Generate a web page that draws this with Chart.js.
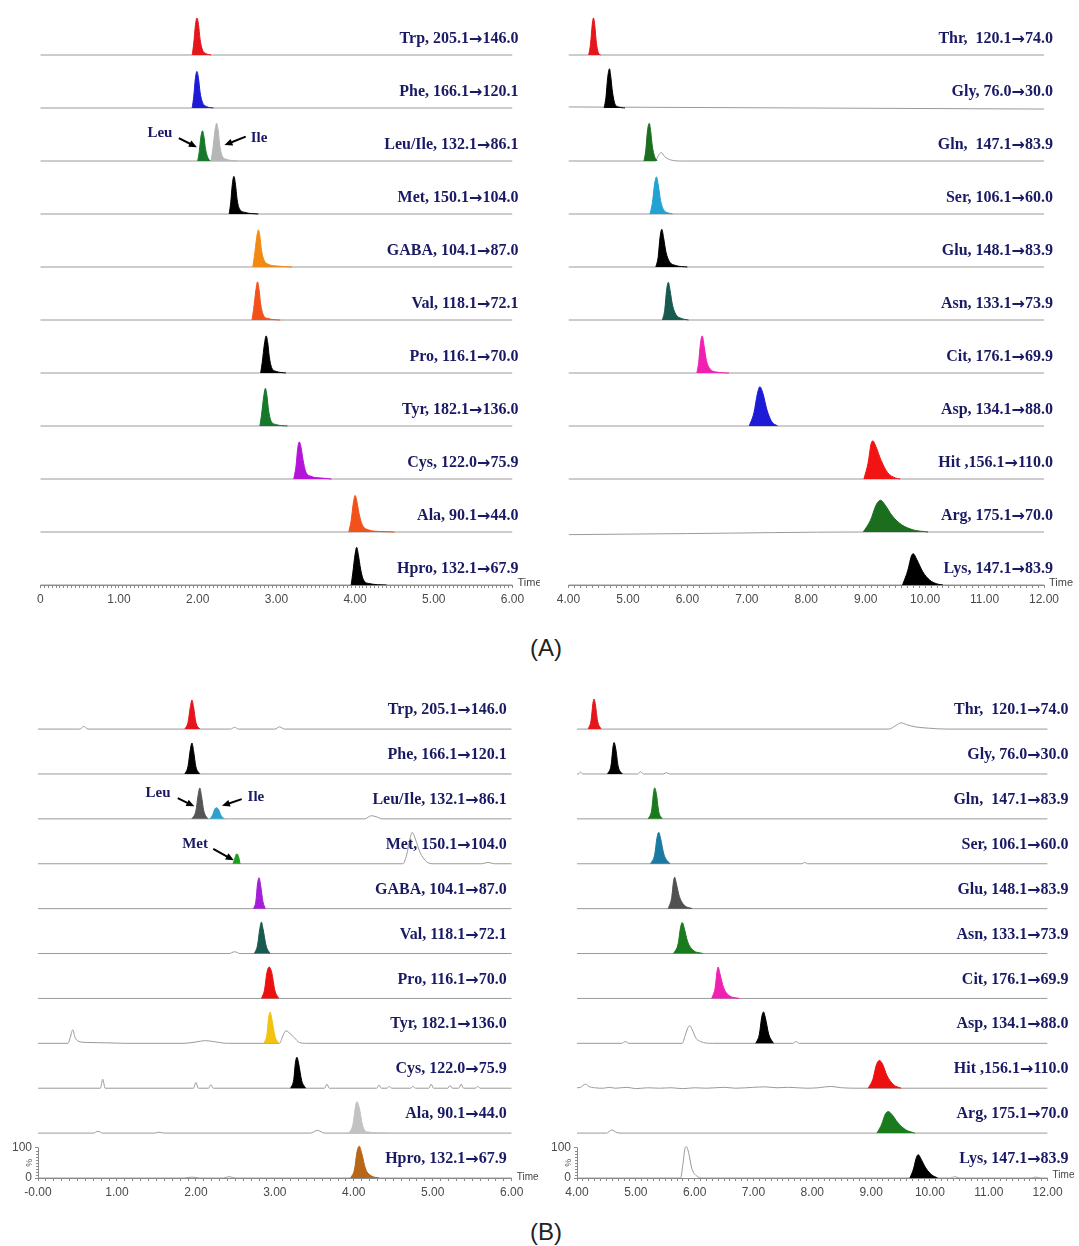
<!DOCTYPE html>
<html>
<head>
<meta charset="utf-8">
<script src="https://cdn.jsdelivr.net/npm/chart.js@4.4.0/dist/chart.umd.min.js"></script>
<style>
  body { margin: 0; background: #fff; width: 1079px; height: 1246px; position: relative; overflow: hidden; }
  canvas { position: absolute; }
  .cap { position: absolute; transform: translateX(-50%); font: 24px "Liberation Sans", Arial, sans-serif; color: #222; }
</style>
</head>
<body>
<canvas id="aLeft" width="540" height="613" style="left:0;top:2px"></canvas>
<canvas id="aRight" width="539" height="613" style="left:540px;top:2px"></canvas>
<div class="cap" style="left:546px;top:634px">(A)</div>
<canvas id="bLeft" width="540" height="534" style="left:0;top:674px"></canvas>
<canvas id="bRight" width="539" height="534" style="left:540px;top:674px"></canvas>
<div class="cap" style="left:546px;top:1218px">(B)</div>
<script>
// every panel stacks 11 chromatogram traces, first row on top
const rowsPerPanel = 11;

// peak points are [time (min), height above the trace baseline (in row units)]

// ---------- (A) left ----------
const aLeftLabels = ['Trp, 205.1→146.0', 'Phe, 166.1→120.1', 'Leu/Ile, 132.1→86.1', 'Met, 150.1→104.0',
  'GABA, 104.1→87.0', 'Val, 118.1→72.1', 'Pro, 116.1→70.0', 'Tyr, 182.1→136.0',
  'Cys, 122.0→75.9', 'Ala, 90.1→44.0', 'Hpro, 132.1→67.9'];
const aLeftPeaks = [
  [[[1.93,0],[1.95,0.22],[1.97,0.55],[1.99,0.70],[2.01,0.58],[2.03,0.30],[2.06,0.10],[2.10,0.03],[2.17,0]]],
  [[[1.93,0],[1.95,0.22],[1.97,0.55],[1.99,0.69],[2.01,0.56],[2.03,0.30],[2.06,0.11],[2.11,0.03],[2.20,0]]],
  [[[2.00,0],[2.02,0.18],[2.04,0.45],[2.06,0.57],[2.08,0.45],[2.10,0.22],[2.13,0.06],[2.16,0]],
   [[2.17,0],[2.19,0.20],[2.22,0.58],[2.24,0.71],[2.26,0.58],[2.28,0.30],[2.31,0.10],[2.37,0.03],[2.50,0]]],
  [[[2.40,0],[2.42,0.22],[2.44,0.56],[2.46,0.71],[2.48,0.56],[2.50,0.28],[2.53,0.10],[2.60,0.03],[2.77,0]]],
  [[[2.70,0],[2.72,0.20],[2.75,0.56],[2.77,0.70],[2.79,0.58],[2.81,0.32],[2.84,0.14],[2.90,0.05],[3.00,0.02],[3.20,0]]],
  [[[2.69,0],[2.71,0.20],[2.74,0.57],[2.76,0.72],[2.78,0.57],[2.80,0.30],[2.83,0.11],[2.89,0.03],[3.05,0]]],
  [[[2.80,0],[2.82,0.20],[2.85,0.57],[2.87,0.70],[2.89,0.57],[2.91,0.30],[2.94,0.10],[3.00,0.03],[3.12,0]]],
  [[[2.79,0],[2.81,0.20],[2.84,0.57],[2.86,0.71],[2.88,0.57],[2.90,0.30],[2.93,0.10],[2.99,0.03],[3.14,0]]],
  [[[3.22,0],[3.25,0.25],[3.27,0.57],[3.29,0.70],[3.31,0.62],[3.34,0.35],[3.37,0.15],[3.44,0.05],[3.56,0.02],[3.70,0]]],
  [[[3.92,0],[3.95,0.22],[3.98,0.57],[4.00,0.69],[4.02,0.60],[4.05,0.35],[4.09,0.14],[4.17,0.04],[4.32,0.01],[4.50,0]]],
  [[[3.95,0],[3.97,0.22],[4.00,0.58],[4.02,0.71],[4.04,0.58],[4.07,0.30],[4.10,0.12],[4.17,0.03],[4.40,0]]]
];
const aLeftGhosts = [[], [], [], [], [], [], [], [], [], [], []];
const aLeftColors = [['#e4161c'], ['#1c1cd6'], ['#16782a', '#b6b6b6'], ['#000000'], ['#f28a12'], ['#f2521a'],
  ['#000000'], ['#16782a'], ['#b414d8'], ['#f2521a'], ['#000000']];
const aLeftNotes = [
  { text: 'Leu', row: 2, at: [1.52, 0.52], from: [1.76, 0.43], to: [1.99, 0.26] },
  { text: 'Ile', row: 2, at: [2.78, 0.44], from: [2.61, 0.46], to: [2.34, 0.30] }
];

// ---------- (A) right ----------
const aRightLabels = ['Thr,  120.1→74.0', 'Gly, 76.0→30.0', 'Gln,  147.1→83.9', 'Ser, 106.1→60.0',
  'Glu, 148.1→83.9', 'Asn, 133.1→73.9', 'Cit, 176.1→69.9', 'Asp, 134.1→88.0',
  'Hit ,156.1→110.0', 'Arg, 175.1→70.0', 'Lys, 147.1→83.9'];
const aRightPeaks = [
  [[[4.34,0],[4.37,0.20],[4.40,0.58],[4.42,0.70],[4.44,0.58],[4.47,0.22],[4.50,0.05],[4.54,0]]],
  [[[4.60,0],[4.63,0.20],[4.66,0.58],[4.69,0.74],[4.71,0.60],[4.74,0.30],[4.78,0.08],[4.84,0.02],[4.95,0]]],
  [[[5.27,0],[5.30,0.20],[5.33,0.58],[5.36,0.71],[5.38,0.58],[5.41,0.28],[5.45,0.08],[5.49,0]]],
  [[[5.37,0],[5.41,0.20],[5.45,0.58],[5.48,0.70],[5.51,0.55],[5.55,0.25],[5.60,0.08],[5.68,0.02],[5.75,0]]],
  [[[5.47,0],[5.51,0.20],[5.54,0.56],[5.57,0.71],[5.60,0.55],[5.64,0.28],[5.70,0.10],[5.80,0.03],[6.00,0]]],
  [[[5.58,0],[5.62,0.20],[5.65,0.56],[5.68,0.71],[5.71,0.55],[5.75,0.28],[5.81,0.10],[5.90,0.03],[6.02,0]]],
  [[[6.16,0],[6.19,0.20],[6.22,0.56],[6.25,0.70],[6.28,0.52],[6.32,0.24],[6.38,0.08],[6.48,0.02],[6.70,0]]],
  [[[7.04,0],[7.12,0.25],[7.18,0.62],[7.22,0.74],[7.27,0.62],[7.34,0.30],[7.42,0.08],[7.52,0]]],
  [[[8.97,0],[9.04,0.30],[9.09,0.66],[9.12,0.72],[9.17,0.62],[9.26,0.35],[9.37,0.12],[9.50,0.02],[9.58,0]]],
  [[[8.96,0],[9.08,0.22],[9.18,0.52],[9.25,0.60],[9.32,0.52],[9.45,0.30],[9.60,0.14],[9.80,0.04],[10.05,0]]],
  [[[9.62,0],[9.71,0.28],[9.77,0.55],[9.80,0.59],[9.86,0.48],[9.96,0.25],[10.08,0.09],[10.20,0.02],[10.30,0]]]
];
const aRightGhosts = [
  [],
  [[4.0,0.02],[12.0,-0.02]],
  [[5.46,0],[5.51,0.10],[5.56,0.16],[5.62,0.08],[5.72,0.02],[5.90,0]],
  [], [], [], [], [], [],
  [[4.0,-0.05],[6.0,-0.03],[8.9,0]],
  []
];
const aRightColors = [['#e4161c'], ['#000000'], ['#1a6e1e'], ['#22a2d2'], ['#000000'], ['#185a50'],
  ['#f020b2'], ['#1c1cd6'], ['#f21414'], ['#1a6e1e'], ['#000000']];

// ---------- (B) left ----------
const bLeftLabels = aLeftLabels;
const bLeftPeaks = [
  [[[1.86,0],[1.90,0.15],[1.93,0.50],[1.95,0.65],[1.97,0.50],[2.00,0.15],[2.05,0]]],
  [[[1.86,0],[1.90,0.17],[1.93,0.55],[1.95,0.69],[1.97,0.52],[2.00,0.16],[2.05,0]]],
  [[[1.95,0],[2.00,0.18],[2.03,0.55],[2.05,0.69],[2.07,0.52],[2.10,0.18],[2.15,0]],
   [[2.18,0],[2.21,0.08],[2.24,0.22],[2.26,0.25],[2.29,0.20],[2.32,0.07],[2.36,0]]],
  [[[2.47,0],[2.49,0.10],[2.51,0.21],[2.52,0.22],[2.54,0.16],[2.56,0]]],
  [[[2.73,0],[2.76,0.17],[2.78,0.55],[2.80,0.69],[2.82,0.52],[2.85,0.15],[2.88,0]]],
  [[[2.74,0],[2.78,0.18],[2.81,0.56],[2.83,0.70],[2.85,0.55],[2.89,0.17],[2.94,0]]],
  [[[2.83,0],[2.87,0.20],[2.90,0.58],[2.93,0.70],[2.96,0.58],[3.00,0.18],[3.05,0]]],
  [[[2.86,0],[2.90,0.20],[2.92,0.56],[2.94,0.70],[2.96,0.56],[3.00,0.17],[3.05,0]]],
  [[[3.20,0],[3.24,0.20],[3.26,0.56],[3.28,0.69],[3.30,0.56],[3.34,0.17],[3.39,0]]],
  [[[3.94,0],[3.99,0.20],[4.02,0.58],[4.04,0.70],[4.07,0.56],[4.11,0.18],[4.16,0.03],[4.45,0]]],
  [[[3.96,0],[4.01,0.20],[4.04,0.58],[4.07,0.71],[4.10,0.55],[4.15,0.20],[4.22,0.05],[4.32,0]]]
];
const bLeftGhosts = [
  [[0.53,0],[0.58,0.06],[0.63,0],[2.44,0],[2.49,0.04],[2.54,0],[3.00,0],[3.06,0.05],[3.12,0]],
  [],
  [[4.14,0],[4.22,0.07],[4.28,0.05],[4.36,0]],
  [[4.62,0],[4.67,0.20],[4.71,0.55],[4.74,0.70],[4.78,0.55],[4.84,0.25],[4.92,0.05],[5.00,0],[5.62,0],[5.70,0.03],[5.78,0]],
  [],
  [[2.42,0],[2.49,0.04],[2.56,0]],
  [],
  [[0.38,0],[0.41,0.14],[0.44,0.30],[0.47,0.13],[0.52,0.04],[0.62,0.02],[0.90,0.01],[1.10,0],
   [1.85,0],[2.00,0.03],[2.12,0.06],[2.22,0.04],[2.40,0],
   [3.06,0],[3.10,0.16],[3.14,0.28],[3.19,0.22],[3.25,0.12],[3.31,0.02],[3.40,0]],
  [[0.79,0],[0.82,0.20],[0.85,0],[1.97,0],[2.00,0.13],[2.03,0],[2.16,0],[2.19,0.08],[2.22,0],
   [3.63,0],[3.66,0.09],[3.69,0],[4.29,0],[4.32,0.07],[4.35,0],[4.42,0],[4.45,0.04],[4.48,0],
   [4.72,0],[4.75,0.04],[4.78,0],[4.95,0],[4.98,0.09],[5.01,0],[5.19,0],[5.22,0.06],[5.25,0],
   [5.33,0],[5.36,0.09],[5.39,0],[5.54,0],[5.57,0.04],[5.60,0]],
  [[0.70,0],[0.76,0.04],[0.82,0],[1.48,0],[1.53,0.02],[1.60,0],[3.45,0],[3.54,0.06],[3.63,0]],
  [[1.85,0],[1.95,0.02],[2.05,0],[2.35,0],[2.42,0.03],[2.50,0]]
];
const bLeftColors = [['#e4161c'], ['#000000'], ['#555555', '#2aa2cc'], ['#1ea01e'], ['#a41ed8'], ['#185a50'],
  ['#ec1010'], ['#f2c20e'], ['#000000'], ['#c2c2c2'], ['#b8661a']];
const bLeftNotes = [
  { text: 'Leu', row: 2, at: [1.52, 0.57], from: [1.77, 0.46], to: [1.98, 0.28] },
  { text: 'Ile', row: 2, at: [2.76, 0.48], from: [2.58, 0.44], to: [2.33, 0.29] },
  { text: 'Met', row: 3, at: [1.99, 0.44], from: [2.22, 0.33], to: [2.48, 0.08] }
];

// ---------- (B) right ----------
const bRightLabels = aRightLabels;
const bRightPeaks = [
  [[[4.19,0],[4.24,0.20],[4.27,0.57],[4.29,0.67],[4.31,0.57],[4.35,0.18],[4.41,0]]],
  [[[4.52,0],[4.58,0.20],[4.61,0.58],[4.63,0.70],[4.66,0.55],[4.70,0.17],[4.77,0]]],
  [[[5.21,0],[5.27,0.20],[5.30,0.57],[5.32,0.69],[5.35,0.55],[5.39,0.16],[5.45,0]]],
  [[[5.25,0],[5.32,0.20],[5.36,0.58],[5.39,0.70],[5.42,0.57],[5.48,0.20],[5.58,0]]],
  [[[5.55,0],[5.61,0.25],[5.64,0.60],[5.66,0.70],[5.69,0.55],[5.74,0.27],[5.82,0.08],[5.96,0]]],
  [[[5.64,0],[5.72,0.22],[5.76,0.58],[5.79,0.69],[5.82,0.58],[5.88,0.27],[5.97,0.08],[6.14,0]]],
  [[[6.29,0],[6.35,0.25],[6.38,0.60],[6.40,0.70],[6.43,0.55],[6.49,0.25],[6.58,0.07],[6.76,0]]],
  [[[7.04,0],[7.10,0.20],[7.14,0.58],[7.17,0.70],[7.20,0.58],[7.26,0.20],[7.34,0]]],
  [[[8.95,0],[9.03,0.20],[9.09,0.52],[9.14,0.62],[9.19,0.55],[9.27,0.28],[9.38,0.08],[9.51,0]]],
  [[[9.10,0],[9.18,0.20],[9.24,0.42],[9.29,0.48],[9.35,0.42],[9.45,0.24],[9.58,0.08],[9.74,0]]],
  [[[9.66,0],[9.72,0.20],[9.77,0.46],[9.80,0.52],[9.85,0.42],[9.93,0.22],[10.03,0.07],[10.13,0]]]
];
const bRightGhosts = [
  [[9.30,0],[9.42,0.08],[9.51,0.14],[9.60,0.10],[9.75,0.05],[9.98,0.02],[10.30,0]],
  [[4.02,0],[4.06,0.04],[4.10,0],[5.03,0],[5.08,0.05],[5.13,0],[5.47,0],[5.52,0.03],[5.57,0]],
  [],
  [[7.82,0],[7.87,0.03],[7.92,0]],
  [], [], [],
  [[4.76,0],[4.82,0.04],[4.88,0],[5.79,0],[5.84,0.18],[5.89,0.36],[5.92,0.39],[5.96,0.30],[6.02,0.12],
   [6.10,0.04],[6.30,0],[7.67,0],[7.72,0.04],[7.78,0]],
  [[4.0,0.01],[4.06,0.02],[4.10,0.06],[4.15,0.09],[4.20,0.04],[4.30,0.01],[4.45,0],[4.55,0.02],[4.65,0],
   [4.85,0.02],[5.0,-0.01],[5.2,0.01],[5.4,0],[5.6,0.01],[5.8,-0.01],[6.0,0.01],[6.2,0],[6.5,0.02],
   [6.7,0],[7.0,0.02],[7.2,0.03],[7.4,0.01],[7.6,0.02],[7.9,0],[8.1,0.01],[8.31,0.04],[8.5,0.01],[8.8,0]],
  [[4.50,0],[4.59,0.07],[4.68,0.01],[4.75,0]],
  [[5.76,0],[5.80,0.30],[5.84,0.68],[5.86,0.70],[5.90,0.55],[5.95,0.22],[6.02,0.06],[6.15,0],
   [10.35,0],[10.42,0.03],[10.50,0],[11.72,0],[11.80,0.02],[11.88,0]]
];
const bRightColors = [['#e4161c'], ['#000000'], ['#1a7a1e'], ['#1a7aa2'], ['#505050'], ['#1a7a1e'],
  ['#f020b2'], ['#000000'], ['#ec1010'], ['#1a7a1e'], ['#000000']];

// y span of the 0-100 % scale on the bottom trace of (B), in row units
const pctSpan = 0.68;

const navy = '#1a1a64';
const serifBold = 'bold 16px "Liberation Serif", "Times New Roman", serif';
const arrowFont = 'bold 16px "DejaVu Sans", sans-serif';
const sans = '"Liberation Sans", Arial, sans-serif';

// right-aligned trace name, the arrow taken from a font with a full-size glyph
function drawLabel(ctx, text, xRight, y) {
  const parts = text.split('→');
  ctx.font = serifBold;
  const wa = ctx.measureText(parts[0]).width;
  const wb = ctx.measureText(parts[1]).width;
  ctx.font = arrowFont;
  const wArr = ctx.measureText('→').width;
  let x = xRight - wb - wArr - wa;
  ctx.textAlign = 'left';
  ctx.font = serifBold;
  ctx.fillText(parts[0], x, y);
  x += wa;
  ctx.font = arrowFont;
  ctx.fillText('→', x, y + 1);
  x += wArr;
  ctx.font = serifBold;
  ctx.fillText(parts[1], x, y);
}

function drawArrow(ctx, x0, y0, x1, y1) {
  const ang = Math.atan2(y1 - y0, x1 - x0);
  ctx.strokeStyle = '#000';
  ctx.lineWidth = 2;
  ctx.beginPath();
  ctx.moveTo(x0, y0);
  ctx.lineTo(x1 - 5 * Math.cos(ang), y1 - 5 * Math.sin(ang));
  ctx.stroke();
  ctx.fillStyle = '#000';
  ctx.beginPath();
  ctx.moveTo(x1, y1);
  ctx.lineTo(x1 - 8 * Math.cos(ang) + 3.5 * Math.sin(ang), y1 - 8 * Math.sin(ang) - 3.5 * Math.cos(ang));
  ctx.lineTo(x1 - 8 * Math.cos(ang) - 3.5 * Math.sin(ang), y1 - 8 * Math.sin(ang) + 3.5 * Math.cos(ang));
  ctx.closePath();
  ctx.fill();
}

function buildPanel(id, p) {
  const datasets = [];
  p.labels.forEach((label, row) => {
    const base = rowsPerPanel - 1 - row;
    const line = p.ghosts[row].slice();
    if (!line.length || line[0][0] > p.xMin) line.unshift([p.xMin, 0]);
    if (line[line.length - 1][0] < p.xMax) line.push([p.xMax, 0]);
    datasets.push({
      data: line.map(([x, y]) => ({ x, y: y + base })),
      borderColor: '#9a9a9a', borderWidth: 1, pointRadius: 0, fill: false,
      cubicInterpolationMode: 'monotone', order: 1
    });
    p.peaks[row].forEach((pk, k) => {
      datasets.push({
        data: pk.map(([x, y]) => ({ x, y: y + base })),
        borderColor: p.colors[row][k], backgroundColor: p.colors[row][k], borderWidth: 1,
        pointRadius: 0, fill: { value: base }, cubicInterpolationMode: 'monotone', order: 0
      });
    });
  });

  const scales = {
    x: {
      type: 'linear', min: p.xMin, max: p.xMax,
      afterFit: (s) => { s.height = 30; },
      ticks: {
        stepSize: p.step, maxTicksLimit: 1000, autoSkip: false, maxRotation: 0, minRotation: 0,
        padding: 4, color: '#4a4a4a', font: { family: sans, size: 12 },
        callback: (v) => {
          if (Math.abs(v - Math.round(v)) > 1e-6) return '';
          if (Math.round(v) === 0) return p.zeroLabel;
          return Math.round(v).toFixed(2);
        }
      },
      grid: { drawOnChartArea: false, tickLength: 3, color: '#8a8a8a' },
      border: { color: '#8a8a8a', width: 1 }
    },
    y: { display: false, min: 0, max: rowsPerPanel }
  };
  if (p.pctWidth) {
    scales.pct = {
      position: 'left', min: 0, max: 100 * rowsPerPanel / pctSpan,
      afterBuildTicks: (s) => { s.ticks = [{ value: 0 }, { value: 100 }]; },
      afterFit: (s) => { s.width = p.pctWidth; },
      ticks: { padding: 3, color: '#4a4a4a', font: { family: sans, size: 12 } },
      grid: { drawOnChartArea: false, tickLength: 3, color: '#8a8a8a' },
      border: { display: false }
    };
  }

  const textPlugin = {
    id: 'traceText',
    afterDraw(chart) {
      const ctx = chart.ctx;
      const xs = chart.scales.x, ys = chart.scales.y;
      const area = chart.chartArea;
      ctx.save();
      // trace names
      ctx.fillStyle = navy;
      ctx.textBaseline = 'middle';
      p.labels.forEach((label, row) => {
        const y = ys.getPixelForValue(rowsPerPanel - 1 - row) - p.labelDy;
        drawLabel(ctx, label, area.right + p.labelDx, y);
      });
      // Leu / Ile / Met callouts
      (p.notes || []).forEach((n) => {
        const base = rowsPerPanel - 1 - n.row;
        ctx.font = 'bold 15px "Liberation Serif", "Times New Roman", serif';
        ctx.fillStyle = navy;
        ctx.textAlign = 'center';
        ctx.fillText(n.text, xs.getPixelForValue(n.at[0]), ys.getPixelForValue(base + n.at[1]));
        drawArrow(ctx,
          xs.getPixelForValue(n.from[0]), ys.getPixelForValue(base + n.from[1]),
          xs.getPixelForValue(n.to[0]), ys.getPixelForValue(base + n.to[1]));
      });
      // "Time" axis title
      ctx.font = p.timeSize + 'px ' + sans;
      ctx.fillStyle = '#444';
      ctx.textAlign = 'left';
      ctx.fillText('Time', area.right + 5, area.bottom + p.timeDy);
      // short % axis on the bottom trace
      if (p.pctWidth) {
        const ps = chart.scales.pct;
        const y0 = ps.getPixelForValue(0), y1 = ps.getPixelForValue(100);
        ctx.strokeStyle = '#8a8a8a';
        ctx.lineWidth = 1;
        ctx.beginPath();
        ctx.moveTo(area.left + 0.5, y0);
        ctx.lineTo(area.left + 0.5, y1);
        for (let v = 10; v < 100; v += 10) {
          const y = Math.round(ps.getPixelForValue(v)) + 0.5;
          ctx.moveTo(area.left, y);
          ctx.lineTo(area.left - 2, y);
        }
        ctx.stroke();
        ctx.translate(area.left - 8, (y0 + y1) / 2);
        ctx.rotate(-Math.PI / 2);
        ctx.font = '9px ' + sans;
        ctx.fillStyle = '#555';
        ctx.textAlign = 'center';
        ctx.fillText('%', 0, 0);
      }
      ctx.restore();
    }
  };

  return new Chart(document.getElementById(id), {
    type: 'line',
    data: { datasets },
    options: {
      responsive: false, animation: false, devicePixelRatio: 1,
      layout: { padding: { left: p.padLeft, right: p.padRight, top: 0, bottom: 0 } },
      plugins: { legend: { display: false }, tooltip: { enabled: false } },
      scales
    },
    plugins: [textPlugin]
  });
}

buildPanel('aLeft', {
  labels: aLeftLabels, peaks: aLeftPeaks, ghosts: aLeftGhosts, colors: aLeftColors, notes: aLeftNotes,
  xMin: 0, xMax: 6, step: 0.05, zeroLabel: '0',
  padLeft: 40.3, padRight: 27.5, labelDx: 6, labelDy: 16, timeSize: 11, timeDy: -2
});
buildPanel('aRight', {
  labels: aRightLabels, peaks: aRightPeaks, ghosts: aRightGhosts, colors: aRightColors,
  xMin: 4, xMax: 12, step: 0.1, zeroLabel: '0',
  padLeft: 28.5, padRight: 35, labelDx: 9, labelDy: 16, timeSize: 11, timeDy: -2
});
buildPanel('bLeft', {
  labels: bLeftLabels, peaks: bLeftPeaks, ghosts: bLeftGhosts, colors: bLeftColors, notes: bLeftNotes,
  xMin: 0, xMax: 6, step: 0.1, zeroLabel: '-0.00', pctWidth: 38,
  padLeft: 0, padRight: 28.3, labelDx: -5, labelDy: 19, timeSize: 10, timeDy: -1
});
buildPanel('bRight', {
  labels: bRightLabels, peaks: bRightPeaks, ghosts: bRightGhosts, colors: bRightColors,
  xMin: 4, xMax: 12, step: 0.1, zeroLabel: '0', pctWidth: 37,
  padLeft: 0, padRight: 31.4, labelDx: 21, labelDy: 19, timeSize: 10, timeDy: -3
});
</script>
</body>
</html>
